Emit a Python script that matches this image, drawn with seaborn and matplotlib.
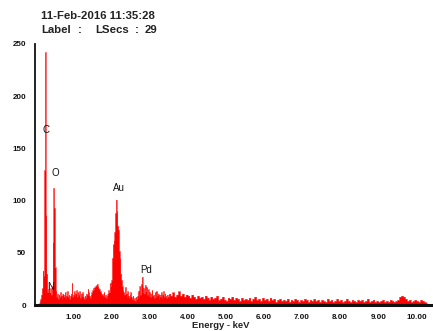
import numpy as np
import pandas as pd
import matplotlib
matplotlib.use("Agg")
import matplotlib.pyplot as plt
import seaborn as sns

# EDS spectrum, counts per channel
# fine channels 0.10-3.50 keV (0.02 keV wide)
counts_low = [
    2, 4, 6, 10, 16, 33, 28, 129, 242, 86,
    30, 12, 15, 20, 12, 16, 10, 18, 60, 112,
    93, 36, 14, 8, 11, 6, 10, 8, 12, 9,
    7, 11, 10, 8, 12, 7, 9, 13, 8, 10,
    6, 9, 11, 21, 8, 10, 13, 9, 11, 14,
    8, 12, 10, 13, 7, 11, 9, 12, 8, 6,
    9, 7, 11, 10, 15, 12, 9, 7, 10, 12,
    14, 16, 15, 17, 18, 19, 20, 18, 16, 15,
    13, 12, 10, 11, 9, 12, 8, 10, 7, 9,
    11, 14, 12, 21, 18, 24, 45, 58, 62, 70,
    88, 101, 90, 76, 72, 52, 45, 30, 24, 18,
    14, 12, 10, 17, 11, 8, 13, 9, 7, 10,
    12, 8, 6, 9, 5, 7, 4, 8, 6, 9,
    13, 8, 18, 10, 20, 27, 12, 16, 11, 19,
    13, 17, 10, 15, 9, 12, 8, 11, 14, 9,
    10, 7, 12, 8, 13, 9, 11, 6, 10, 8,
    12, 7, 10, 13, 8, 11, 9, 7, 10, 8,
]
# coarse channels 3.50-10.30 keV (0.05 keV wide)
counts_high = [
    11, 9, 12, 8, 10, 13, 9, 11, 8, 10,
    9, 7, 10, 8, 6, 9, 7, 8, 6, 9,
    7, 5, 8, 6, 7, 9, 5, 6, 8, 5,
    4, 7, 6, 8, 5, 7, 6, 4, 7, 5,
    6, 5, 7, 4, 6, 8, 5, 6, 4, 7,
    5, 6, 4, 7, 5, 6, 3, 5, 6, 4,
    5, 4, 6, 3, 5, 4, 6, 5, 3, 5,
    4, 6, 5, 3, 5, 4, 6, 4, 5, 3,
    5, 4, 3, 6, 4, 5, 3, 4, 6, 4,
    5, 3, 4, 6, 4, 3, 5, 4, 3, 5,
    4, 5, 3, 4, 6, 3, 4, 5, 3, 4,
    3, 4, 5, 3, 4, 3, 5, 4, 3, 4,
    5, 8, 9, 8, 6, 4, 5, 3, 4, 5,
    4, 3, 5, 4, 3, 2,
]

# element labels: name, energy (keV), counts
peak_names = ["C", "N", "O", "Au", "Pd"]
peak_kev = [0.28, 0.41, 0.54, 2.21, 2.91]
peak_counts = [168, 17, 126, 112, 34]

x_ticks = [1, 2, 3, 4, 5, 6, 7, 8, 9, 10]
y_ticks = [0, 50, 100, 150, 200, 250]

# channel grid (centres)
centers_low = np.round(np.arange(0.11, 3.50, 0.02), 3)
centers_high = np.round(np.arange(3.525, 10.30, 0.05), 3)
spec = pd.DataFrame({
    "energy": np.concatenate([centers_low, centers_high]),
    "counts": np.array(counts_low + counts_high, dtype=float),
})

sns.set_style("white")
plt.rcParams['font.family'] = ['Liberation Sans', 'DejaVu Sans']

fig = plt.figure(figsize=(4.33, 3.31), dpi=100)
ax = fig.add_axes([35 / 433, 26 / 331, 397 / 433, 261 / 331])

sns.lineplot(data=spec, x="energy", y="counts", drawstyle="steps-mid",
             color="#ff2020", linewidth=0.4, ax=ax)
ax.fill_between(spec["energy"], spec["counts"], step="mid",
                color="#ff0000", linewidth=0)

ax.set_xlim(0, 10.41)
ax.set_ylim(0, 250)
ax.set_xticks(x_ticks)
ax.set_xticklabels([f"{v:.2f}" for v in x_ticks])
ax.set_yticks(y_ticks)
ax.set_yticklabels([str(v) for v in y_ticks])
ax.tick_params(axis="both", direction="out", length=4.5, width=1,
               labelsize=5.8, pad=2, colors="#111111")
for lab in ax.get_xticklabels() + ax.get_yticklabels():
    lab.set_fontweight("bold")
ax.set_xlabel("")
ax.set_ylabel("")

for s in ["top", "right"]:
    ax.spines[s].set_visible(False)
ax.spines["left"].set_linewidth(1.3)
ax.spines["left"].set_color("#111111")
ax.spines["bottom"].set_linewidth(2.2)
ax.spines["bottom"].set_color("#111111")

for name, xk, yc in zip(peak_names, peak_kev, peak_counts):
    ax.text(xk, yc, name, fontsize=7, ha="center", va="center", color="#111111")

fig.text(221 / 433, 1 - 325 / 331, "Energy - keV", fontsize=6.8, fontweight="bold",
         ha="center", va="center", color="#222222")

# header lines
hdr = dict(fontsize=8.2, fontweight="bold", ha="left", va="center", color="#222222")
fig.text(41 / 433, 1 - 16 / 331, "11-Feb-2016 11:35:28", **hdr)
fig.text(41 / 433, 1 - 30 / 331, "Label", **hdr)
fig.text(78 / 433, 1 - 30 / 331, ":", **hdr)
fig.text(95 / 433, 1 - 30 / 331, "LSecs", **hdr)
fig.text(135 / 433, 1 - 30 / 331, ":", **hdr)
fig.text(145 / 433, 1 - 30 / 331, "29", **hdr)

fig.savefig("out.png", dpi=100)
